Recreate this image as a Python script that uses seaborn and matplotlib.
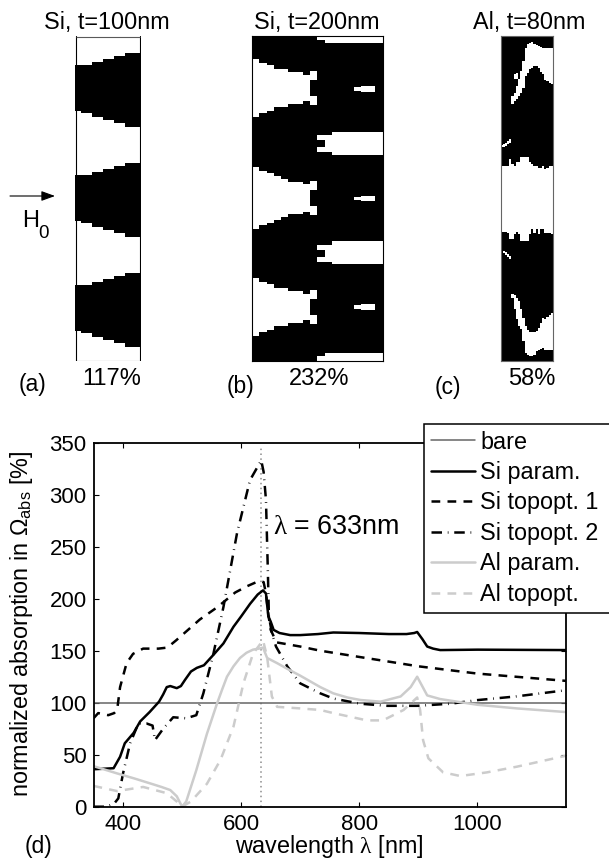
import numpy as np
import matplotlib
matplotlib.use("Agg")
import matplotlib.pyplot as plt
import seaborn as sns

# --- panel (a): black trapezoids, rows counted from the top of the box
a_offsets = [0, 110, 220]
a_top = [29, 29, 29, 26, 26, 23, 23, 20, 20, 17, 17, 17]
a_bottom = [75, 77, 77, 81, 81, 84, 84, 87, 87, 91, 91, 91]

# --- panel (b): white wedges around these centre rows, half heights per column
b_centres = [52, 162, 271]
b_half = [[29, 25, 23, 19, 19, 16, 16, 13],
          [31, 27, 25, 22, 19, 16, 16, 14],
          [29, 25, 23, 19, 19, 16, 16, 13]]
b_notch_outer = 17
b_notch_inner = 8
b_bar_rows = [(96, 119), (205, 228)]
b_bar_notch = [(99, 116), (209, 226)]
b_dash_rows = [(50, 56), (160, 165), (268, 274)]
b_strip_rows = [(0, 7), (317, 325)]

# --- panel (c): white runs per column, (column, first row, last row)
c_mid_start = [130, 130, 130, 130, 123, 128, 130, 126, 126, 121, 121, 121,
               121, 126, 128, 130, 130, 132, 132, 130, 133, 132, 130, 130]
c_mid_end = [196, 196, 196, 197, 203, 203, 198, 196, 198, 205, 205, 205,
             205, 198, 193, 197, 193, 198, 193, 193, 197, 197, 197, 198]
c_upper_hook = [(5, 60, 68), (6, 57, 65), (7, 50, 63), (8, 43, 60), (9, 35, 57),
                (10, 25, 52), (11, 12, 40), (12, 8, 37), (13, 7, 33), (14, 6, 32),
                (15, 8, 30), (16, 9, 30), (17, 10, 32), (18, 11, 36), (19, 12, 38),
                (20, 12, 44), (21, 12, 45), (22, 12, 47), (23, 12, 48)]
c_lower_hook = [(5, 258, 262), (6, 259, 273), (7, 262, 283), (8, 265, 290), (9, 273, 293),
                (10, 282, 305), (11, 290, 317), (12, 294, 319), (13, 296, 320), (14, 296, 320),
                (15, 296, 319), (16, 295, 315), (17, 292, 314), (18, 287, 313), (19, 282, 312),
                (20, 283, 314), (21, 281, 314), (22, 279, 314), (23, 277, 314)]
c_specks = [(6, 38, 43), (7, 37, 43), (0, 109, 111), (1, 108, 111), (2, 107, 110),
            (3, 105, 108), (4, 103, 107), (1, 215, 217), (2, 216, 219), (3, 218, 221),
            (4, 220, 223)]

# --- panel (d): curves
bare_x = [350, 1150]
bare_y = [100, 100]

si_param_x = [350, 384, 395, 403, 418, 429, 445, 461, 468, 474, 480, 491, 498, 505, 515, 525,
              537, 553, 570, 587, 600, 615, 628, 637, 642, 646, 650, 655, 665, 683, 700,
              730, 756, 800, 850, 880, 893, 898, 907, 915, 925, 937, 1000, 1150]
si_param_y = [36, 37, 48, 61, 71, 82, 91, 101, 108, 115, 116, 114, 116, 122, 130, 133.5,
              136, 146, 157, 173, 183, 195, 204, 208, 205, 183, 178, 170, 167, 165, 165,
              166, 167.5, 167, 166, 166, 167, 168, 161, 154, 152, 150.6, 151, 150.6]

si_top1_x = [350, 358, 375, 385, 390, 395, 406, 417, 434, 460, 475, 490, 510, 530, 560,
             590, 610, 630, 638, 642, 646, 650, 660, 700, 734, 800, 900, 1000, 1150]
si_top1_y = [85, 90, 88, 90, 93, 115, 138, 147, 152, 152, 153, 160, 170, 180, 192,
             206, 212, 217, 216, 205, 185, 170, 158, 154, 150, 144, 135, 128, 121]

si_top2_x = [350, 372, 385, 392, 400, 412, 426, 440, 450, 454, 468, 485, 507, 524, 536,
             553, 570, 593, 615, 634, 638, 642, 645, 647, 652, 659, 678, 700, 734, 756,
             802, 847, 898, 954, 1000, 1065, 1150]
si_top2_y = [0, 0, 3, 8, 32, 61, 80, 80, 78, 64, 75, 86, 85, 88, 109,
             147, 192, 263, 314, 333, 322, 295, 231, 183, 167, 154, 135, 118.6, 109, 104,
             99, 97, 97, 99, 102.5, 106, 112]

al_param_x = [350, 390, 420, 446, 465, 480, 491, 500, 507, 524, 542, 559, 568, 576, 587, 598, 609,
              620, 630, 637, 644, 661, 680, 700, 734, 756, 780, 802, 836, 870, 887, 898, 915, 937,
              1000, 1067, 1150]
al_param_y = [39, 32, 27, 22.4, 19, 16, 10, 0, 5, 35, 70, 99, 113, 125, 135, 143, 148,
              151, 152, 153, 143, 138, 132, 126, 115, 109, 105, 102.6, 101, 106, 115, 125, 107, 103.5,
              98, 94.5, 91]

al_top_x = [350, 390, 434, 474, 491, 500, 515, 542, 565, 587, 604, 620, 637, 644, 652,
            661, 700, 734, 756, 813, 840, 875, 898, 903, 908, 917, 942, 971, 1016, 1067, 1150]
al_top_y = [20, 15, 19, 13, 5, 0, 5, 22, 45, 77, 119, 147, 160, 144, 106,
            96, 94.5, 93, 90, 83, 83, 93, 105, 93, 64, 46.5, 33, 29.5, 33, 38.5, 49]

x_ticks = [400, 600, 800, 1000]
y_ticks = [0, 50, 100, 150, 200, 250, 300, 350]

W, H = 609, 861
sns.set_style("ticks", {"axes.edgecolor": "black", "text.color": "black",
                        "xtick.color": "black", "ytick.color": "black",
                        "axes.labelcolor": "black"})
plt.rcParams['font.family'] = ['Liberation Sans', 'DejaVu Sans']
plt.rcParams['mathtext.fontset'] = 'custom'
plt.rcParams['mathtext.rm'] = 'Liberation Sans'
plt.rcParams['mathtext.it'] = 'Liberation Serif'
plt.rcParams['mathtext.default'] = 'it'

fig = plt.figure(figsize=(W / 100, H / 100), dpi=100)


def px_axes(left, top, right, bottom):
    return fig.add_axes([left / W, 1 - bottom / H, (right - left) / W, (bottom - top) / H])


def draw_mask(ax, mask):
    sns.heatmap(mask, ax=ax, cmap=["white", "black"], vmin=0, vmax=1, cbar=False,
                xticklabels=False, yticklabels=False)
    ax.set_xlabel("")
    ax.set_ylabel("")


# panel a
mask_a = np.zeros((325, 12))
for off in a_offsets:
    for col in range(12):
        mask_a[off + a_top[col]:off + a_bottom[col], col] = 1
ax_a = px_axes(75, 36, 141, 361)
draw_mask(ax_a, mask_a)
ax_a.axvline(0.24, color="black", lw=0.8)
ax_a.axvline(11.87, color="black", lw=0.8)
ax_a.hlines([0.5, 324.5], 0.24, 11.87, color="0.35", lw=0.8)

# panel b
mask_b = np.ones((325, 18))
for centre, half in zip(b_centres, b_half):
    for col, h in enumerate(half):
        mask_b[centre - h:centre + h, col] = 0
    mask_b[centre - b_notch_outer:centre - b_notch_inner, 8] = 0
    mask_b[centre + b_notch_inner:centre + b_notch_outer, 8] = 0
for (r0, r1), (n0, n1) in zip(b_bar_rows, b_bar_notch):
    mask_b[r0:r1, 11:] = 0
    mask_b[n0:n1, 10] = 0
    mask_b[n0:n0 + 5, 9] = 0
    mask_b[n1 - 5:n1, 9] = 0
for r0, r1 in b_dash_rows:
    mask_b[r0:r1, 15:17] = 0
    mask_b[r0 + 1:r1 - 1, 14] = 0
for r0, r1 in b_strip_rows:
    mask_b[r0:r1, 10:] = 0
    mask_b[r0 if r0 == 0 else r0 + 3:r1 - 3 if r0 == 0 else r1, 9] = 0
ax_b = px_axes(252, 35.5, 382.5, 360.5)
draw_mask(ax_b, mask_b)
for side in ax_b.spines.values():
    side.set_visible(True)
    side.set_linewidth(0.8)
    side.set_color("black")

# panel c
mask_c = np.ones((325, 24))
for col in range(24):
    mask_c[c_mid_start[col]:c_mid_end[col], col] = 0
for col, r0, r1 in c_upper_hook + c_lower_hook + c_specks:
    mask_c[r0:r1, col] = 0
ax_c = px_axes(500.5, 35.5, 553, 360.5)
draw_mask(ax_c, mask_c)
for side in ax_c.spines.values():
    side.set_visible(True)
    side.set_linewidth(0.8)
    side.set_color("0.4")

# panel d
ax = px_axes(93.5, 442.7, 566, 806.7)
ax.axvline(633, color="0.55", lw=1.1, ls=(0, (1, 2.2)), ymax=0.985, zorder=1)
curves = [
    ("bare", bare_x, bare_y, "0.4", 1.1, "-"),
    ("Si param.", si_param_x, si_param_y, "black", 1.8, "-"),
    ("Si topopt. 1", si_top1_x, si_top1_y, "black", 1.8, (0, (3.5, 2.9))),
    ("Si topopt. 2", si_top2_x, si_top2_y, "black", 1.8, (0, (4.2, 2.3, 0.3, 2.3))),
    ("Al param.", al_param_x, al_param_y, "0.8", 1.8, "-"),
    ("Al topopt.", al_top_x, al_top_y, "0.8", 1.8, (0, (3.5, 2.9))),
]
for name, xs, ys, col, lw, style in curves:
    sns.lineplot(x=xs, y=ys, ax=ax, color=col, lw=lw, linestyle=style, label=name,
                 sort=False, errorbar=None)
ax.set_xlim(350, 1150)
ax.set_ylim(0, 350)
ax.set_xticks(x_ticks)
ax.set_yticks(y_ticks)
ax.tick_params(direction="in", length=3.5, width=0.8, top=True, right=True, labelsize=16, pad=5)
for side in ax.spines.values():
    side.set_linewidth(1.3)
ax.set_xlabel("")
ax.set_ylabel("")

leg = ax.legend(loc="upper left", bbox_to_anchor=(423.5 / W, 1 - 612.5 / H, 195 / W, 189 / H),
                bbox_transform=fig.transFigure, mode="expand", borderaxespad=0, fontsize=16.8,
                handlelength=1.89, handletextpad=0.25, borderpad=0.3, labelspacing=0.32,
                fancybox=False, framealpha=1, edgecolor="black")
leg.get_frame().set_linewidth(1.1)
leg.set_zorder(5)


def put(x, y, s, size=16.8, ha="center"):
    fig.text(x / W, 1 - y / H, s, fontsize=size, ha=ha, va="center", color="black")


put(106.5, 22, "Si, t=100nm")
put(316.5, 22, "Si, t=200nm")
put(529, 22, "Al, t=80nm")
put(32, 384, "(a)", size=16.5)
put(112, 379, "117%", size=17)
put(240, 386, "(b)", size=16.5)
put(319, 379, "232%", size=17)
put(448, 387, "(c)", size=16.5)
put(532, 379, "58%", size=17)
put(38, 846, "(d)", size=16.5)
put(273, 527, r"$\lambda$ = 633nm", size=19.4, ha="left")
put(329, 846.5, r"wavelength $\lambda$ [nm]")
fig.text(22 / W, 1 - 624 / H, r"normalized absorption in $\Omega_{\mathrm{abs}}$ [%]", fontsize=16.8,
         rotation=90, ha="center", va="center", color="black")
put(22, 221, "H", size=17, ha="left")
put(38, 234, "0", size=13.5, ha="left")

ax.annotate("", xy=(55 / W, 1 - 196 / H), xytext=(10 / W, 1 - 196 / H), xycoords="figure fraction",
            textcoords="figure fraction",
            arrowprops=dict(arrowstyle="-|>,head_length=0.55,head_width=0.2", color="black",
                            lw=0.8, shrinkA=0, shrinkB=0, mutation_scale=15))

fig.savefig("out.png", dpi=100)
